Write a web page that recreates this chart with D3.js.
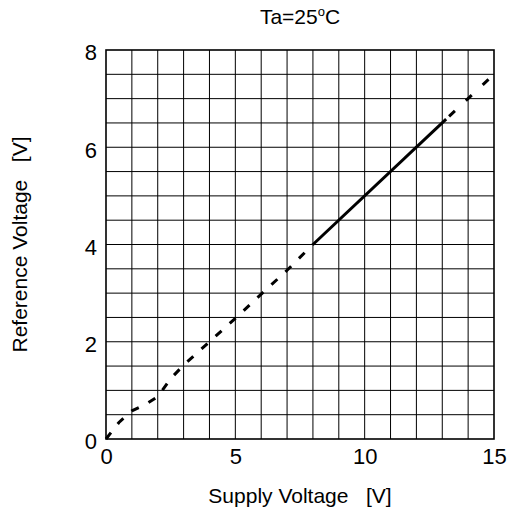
<!DOCTYPE html>
<html>
<head>
<meta charset="utf-8">
<script src="https://cdn.jsdelivr.net/npm/d3@7"></script>
<style>
  html, body { margin: 0; padding: 0; background: #fff; }
  svg { display: block; font-family: "Liberation Sans", Arial, sans-serif; }
</style>
</head>
<body>
<svg id="chart" width="509" height="510"></svg>
<script>
// Reference voltage vs. supply voltage at Ta = 25 °C
const xTicks = [0, 5, 10, 15];
const yTicks = [0, 2, 4, 6, 8];

// Low-supply region (dashed)
const lowSupply = [0, 0.5, 1, 1.5, 2, 2.5, 3, 4, 5, 6, 7, 8];
const lowRef    = [0, 0.34, 0.58, 0.7, 0.87, 1.24, 1.52, 2, 2.48, 2.98, 3.47, 4];
// Operating region (solid)
const opSupply  = [8, 13.15];
const opRef     = [4, 6.58];
// High-supply region (dashed)
const highSupply = [13.15, 15];
const highRef    = [6.58, 7.5];

const margin = { left: 106, top: 50, right: 15, bottom: 71 };
const W = 509, H = 510;
const svg = d3.select("#chart");

const x = d3.scaleLinear().domain([0, 15]).range([margin.left, W - margin.right]);
const y = d3.scaleLinear().domain([0, 8]).range([H - margin.bottom, margin.top]);

// Grid: 1 V columns, 0.5 V rows
const grid = svg.append("g");
grid.selectAll("line.v").data(d3.range(1, 15)).join("line")
  .attr("x1", d => x(d)).attr("x2", d => x(d))
  .attr("y1", y(0)).attr("y2", y(8))
  .attr("stroke", "#000").attr("stroke-width", 1);
grid.selectAll("line.h").data(d3.range(1, 16).map(i => i * 0.5)).join("line")
  .attr("x1", x(0)).attr("x2", x(15))
  .attr("y1", d => y(d)).attr("y2", d => y(d))
  .attr("stroke", "#000").attr("stroke-width", 1);

// Frame
svg.append("rect")
  .attr("x", x(0)).attr("y", y(8))
  .attr("width", x(15) - x(0)).attr("height", y(0) - y(8))
  .attr("fill", "none").attr("stroke", "#000").attr("stroke-width", 1.6);

// Axes (labels only; ticks are the grid)
const xAxis = d3.axisBottom(x).tickValues(xTicks).tickSize(0).tickPadding(9).tickFormat(d3.format("d"));
const yAxis = d3.axisLeft(y).tickValues(yTicks).tickSize(0).tickPadding(9).tickFormat(d3.format("d"));
const gx = svg.append("g").attr("transform", `translate(0,${y(0)})`).call(xAxis);
const gy = svg.append("g").attr("transform", `translate(${x(0)},0)`).call(yAxis);
[gx, gy].forEach(g => {
  g.select(".domain").remove();
  g.selectAll("text").attr("font-size", 22).attr("fill", "#000")
    .attr("font-family", "Liberation Sans, Arial, sans-serif");
});
gy.selectAll("text").attr("dy", "0.45em");

// Curve
const line = d3.line().x(d => x(d[0])).y(d => y(d[1]));
const zip = (a, b) => a.map((v, i) => [v, b[i]]);

svg.append("path").datum(zip(lowSupply, lowRef))
  .attr("d", line).attr("fill", "none").attr("stroke", "#000")
  .attr("stroke-width", 3).attr("stroke-dasharray", "8,11");
svg.append("path").datum(zip(opSupply, opRef))
  .attr("d", line).attr("fill", "none").attr("stroke", "#000")
  .attr("stroke-width", 3);
svg.append("path").datum(zip(highSupply, highRef))
  .attr("d", line).attr("fill", "none").attr("stroke", "#000")
  .attr("stroke-width", 3).attr("stroke-dasharray", "0,4,8,11");

// Titles
const title = svg.append("text")
  .attr("x", (x(0) + x(15)) / 2).attr("y", 24)
  .attr("text-anchor", "middle").attr("font-size", 21).attr("fill", "#000");
title.append("tspan").text("Ta=25");
title.append("tspan").attr("font-size", 13).attr("dy", -8).text("o");
title.append("tspan").attr("dy", 8).text("C");

svg.append("text")
  .attr("x", (x(0) + x(15)) / 2).attr("y", 503)
  .attr("text-anchor", "middle").attr("font-size", 21).attr("fill", "#000")
  .attr("xml:space", "preserve")
  .text("Supply Voltage   [V]");

svg.append("text")
  .attr("transform", `translate(27,${(y(0) + y(8)) / 2}) rotate(-90)`)
  .attr("text-anchor", "middle").attr("font-size", 21).attr("fill", "#000")
  .attr("xml:space", "preserve")
  .text("Reference Voltage   [V]");
</script>
</body>
</html>
